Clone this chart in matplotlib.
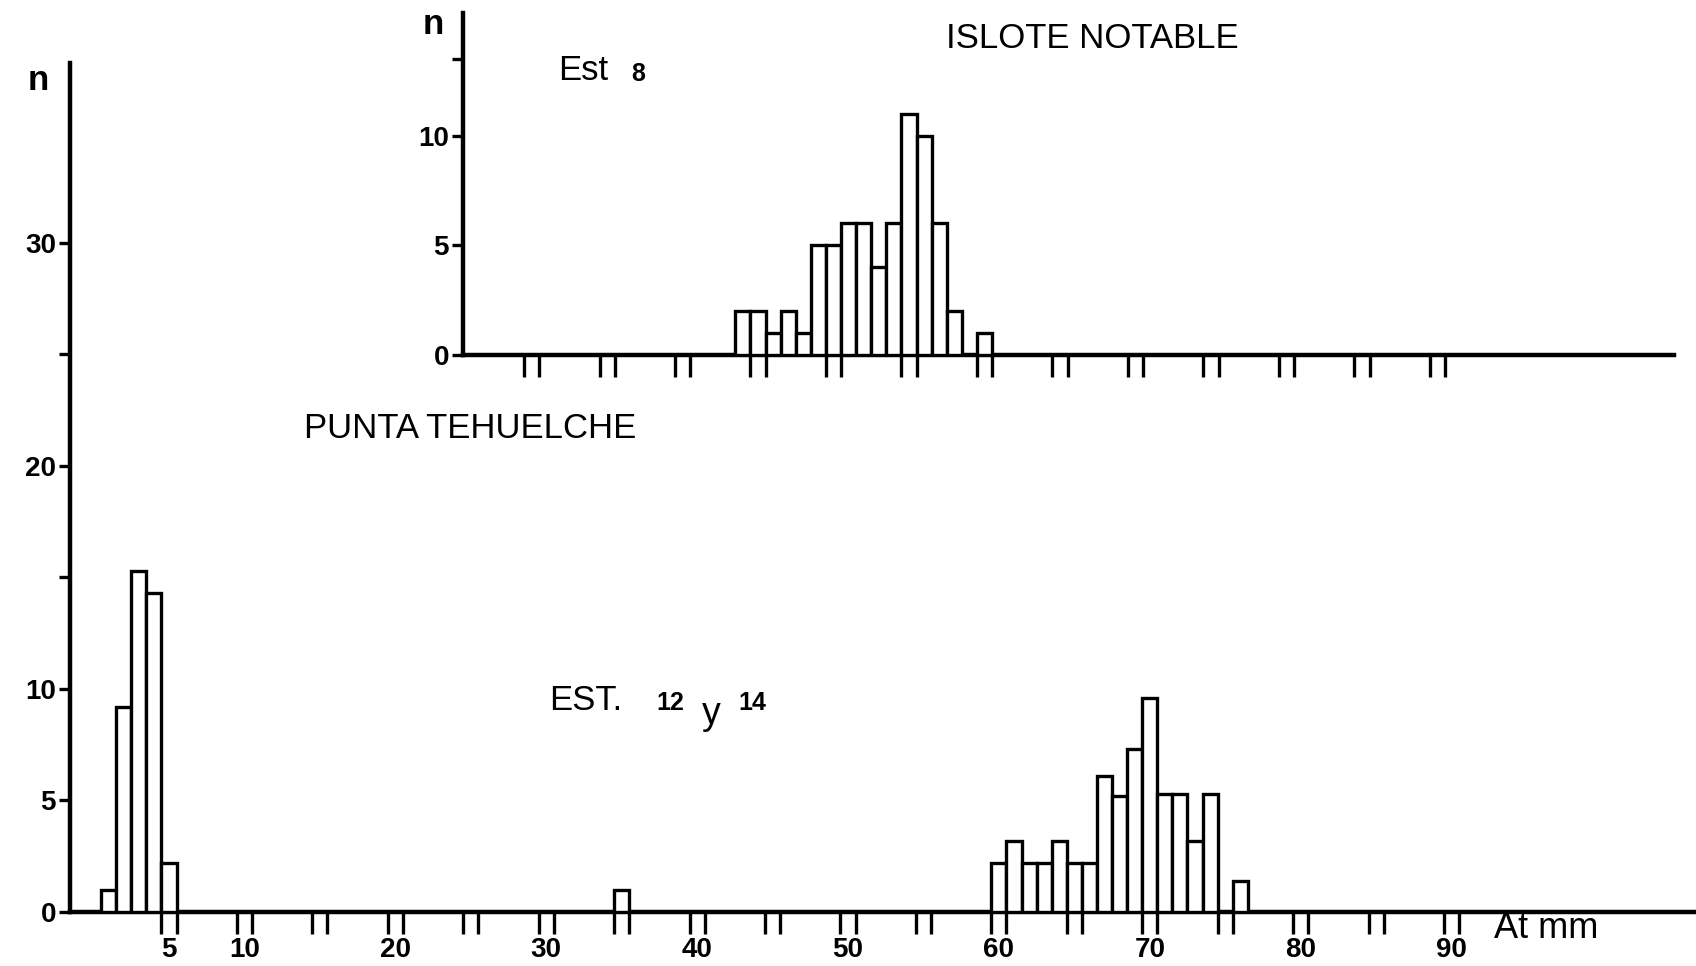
import matplotlib
matplotlib.use("Agg")
import matplotlib.pyplot as plt

plt.rcParams['font.family'] = ['Liberation Sans', 'DejaVu Sans']

W, H, DPI = 1696, 966, 100

# ---------------- data ----------------
# PUNTA TEHUELCHE, Est. 12 y 14  (length class, mm -> n)
pt_length = [1, 2, 3, 4, 5, 35,
             60, 61, 62, 63, 64, 65, 66, 67, 68, 69, 70, 71, 72, 73, 74, 76]
pt_count = [1, 9.2, 15.3, 14.3, 2.2, 1,
            2.2, 3.2, 2.2, 2.2, 3.2, 2.2, 2.2, 6.1, 5.2, 7.3, 9.6, 5.3, 5.3, 3.2, 5.3, 1.4]

# ISLOTE NOTABLE, Est 8
in_length = [44, 45, 46, 47, 48, 49, 50, 51, 52, 53, 54, 55, 56, 57, 58, 60]
in_count = [2, 2, 1, 2, 1, 5, 5, 6, 6, 4, 6, 11, 10, 6, 2, 1]

# axes ticks
bottom_double_ticks = [5, 10, 15, 20, 25, 30, 35, 40, 45, 50, 55, 60, 65, 70, 75, 80, 85, 90]
bottom_x_labels = [5, 10, 20, 30, 40, 50, 60, 70, 80, 90]
top_double_ticks = [30, 35, 40, 45, 50, 55, 60, 65, 70, 75, 80, 85, 90]
bottom_y_ticks = [0, 5, 10, 15, 20, 25, 30]
bottom_y_labels = ['0', '5', '10', '', '20', '', '30']
top_y_ticks = [0, 5, 10, 13.5]
top_y_labels = ['0', '5', '10', '']

# ---------------- figure ----------------
fig = plt.figure(figsize=(W / DPI, H / DPI), dpi=DPI)


def px_axes(left, right, base_y, top_y):
    return fig.add_axes([left / W, 1 - base_y / H, (right - left) / W, (base_y - top_y) / H])


def ftext(x, y, s, **kw):
    fig.text(x / W, 1 - y / H, s, **kw)


def style(ax, xlim, ylim, double_ticks, yticks, ylabels):
    ax.set_xlim(*xlim)
    ax.set_ylim(*ylim)
    ax.patch.set_alpha(0)
    for s in ('top', 'right'):
        ax.spines[s].set_visible(False)
    for s in ('left', 'bottom'):
        ax.spines[s].set_linewidth(3.2)
        ax.spines[s].set_color('black')
    pos = []
    for v in double_ticks:
        pos += [v - 0.5, v + 0.5]
    ax.set_xticks(pos)
    ax.set_xticklabels([])
    ax.tick_params(axis='x', which='major', direction='out', length=16, width=2.4, color='black')
    ax.set_yticks(yticks)
    ax.set_yticklabels(ylabels, fontsize=20, fontweight='bold')
    ax.tick_params(axis='y', which='major', direction='out', length=8, width=2.4, pad=2, color='black')


# bottom chart: Punta Tehuelche
ax1 = px_axes(70, 1696, 912, 63)
ax1.bar(pt_length, pt_count, width=1.0, align='center', facecolor='white',
        edgecolor='black', linewidth=2.4, zorder=3)
style(ax1, (-1.56, 106.2), (0, 38.07), bottom_double_ticks, bottom_y_ticks, bottom_y_labels)
ax1.set_xticks(bottom_x_labels, [str(v) for v in bottom_x_labels], minor=True)
ax1.tick_params(axis='x', which='minor', length=0, pad=18, labelsize=20)
for lab in ax1.get_xticklabels(minor=True):
    lab.set_fontweight('bold')

# top chart: Islote Notable
ax2 = px_axes(463, 1674, 355, 13)
ax2.bar(in_length, in_count, width=1.0, align='center', facecolor='white',
        edgecolor='black', linewidth=2.4, zorder=3)
style(ax2, (25.46, 105.66), (0, 15.6), top_double_ticks, top_y_ticks, top_y_labels)

# texts
ftext(38, 80, 'n', fontsize=25, fontweight='bold', ha='center', va='center')
ftext(433, 24, 'n', fontsize=25, fontweight='bold', ha='center', va='center')
ftext(1092, 38, 'ISLOTE NOTABLE', fontsize=25, ha='center', va='center')
ftext(558, 70, 'Est', fontsize=25, ha='left', va='center')
ftext(638, 74, '8', fontsize=18, fontweight='bold', ha='center', va='center')
ftext(470, 428, 'PUNTA TEHUELCHE', fontsize=25, ha='center', va='center')
ftext(549, 701, 'EST.', fontsize=25, ha='left', va='center')
ftext(670, 703, '12', fontsize=18, fontweight='bold', ha='center', va='center')
ftext(711, 714, 'y', fontsize=27, ha='center', va='center')
ftext(752, 703, '14', fontsize=18, fontweight='bold', ha='center', va='center')
ftext(1494, 928, 'At mm', fontsize=26, ha='left', va='center')

fig.savefig('out.png', dpi=DPI)
